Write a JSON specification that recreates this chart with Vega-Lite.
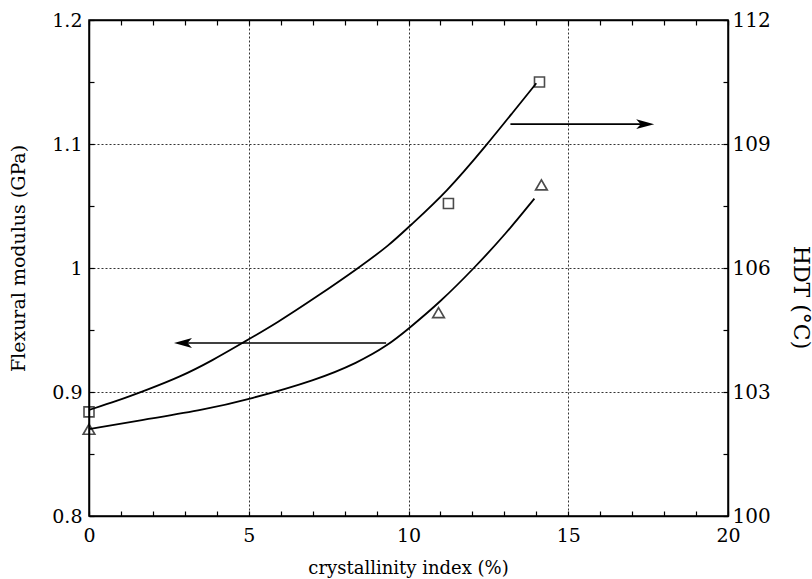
{
  "$schema": "https://vega.github.io/schema/vega-lite/v6.json",
  "width": 639,
  "height": 496,
  "autosize": {"type": "none"},
  "padding": {"left": 89, "top": 20, "right": 84, "bottom": 63},
  "background": "white",
  "config": {
    "font": "DejaVu Serif",
    "view": {"stroke": "black", "strokeWidth": 1.5},
    "axis": {
      "domainColor": "black", "domainWidth": 1.5,
      "tickColor": "black", "tickWidth": 1.2,
      "labelColor": "black", "titleColor": "black",
      "labelFont": "DejaVu Serif", "titleFont": "DejaVu Serif",
      "titleFontWeight": "normal", "labelFlush": false, "labelOverlap": false,
      "gridColor": "#333", "gridDash": [2, 2], "gridWidth": 1
    }
  },
  "datasets": {
    "lower": [
      {"x": 0, "y": 0.870}, {"x": 1.9, "y": 0.8785}, {"x": 3.56, "y": 0.8855},
      {"x": 5.03, "y": 0.8942}, {"x": 7.12, "y": 0.9097}, {"x": 8.4, "y": 0.9235},
      {"x": 9.35, "y": 0.9375}, {"x": 10.0, "y": 0.951}, {"x": 10.97, "y": 0.972},
      {"x": 12.06, "y": 1.0}, {"x": 13.06, "y": 1.028}, {"x": 13.94, "y": 1.056}
    ],
    "upper": [
      {"x": 0, "h": 102.565}, {"x": 0.87, "h": 102.78}, {"x": 1.81, "h": 103.05},
      {"x": 2.84, "h": 103.36}, {"x": 3.88, "h": 103.77}, {"x": 4.81, "h": 104.19},
      {"x": 5.88, "h": 104.67}, {"x": 7.12, "h": 105.3}, {"x": 8.47, "h": 106.02},
      {"x": 9.41, "h": 106.56}, {"x": 10.0, "h": 106.99}, {"x": 11.19, "h": 107.83},
      {"x": 12.47, "h": 109.0}, {"x": 13.25, "h": 109.75}, {"x": 14.0, "h": 110.47}
    ],
    "triangles": [
      {"x": 0, "y": 0.870}, {"x": 10.94, "y": 0.964}, {"x": 14.16, "y": 1.067}
    ],
    "squares": [
      {"x": 0, "h": 102.52}, {"x": 11.25, "h": 107.56}, {"x": 14.1, "h": 110.5}
    ],
    "arrowLeft": [{"x": 9.3, "x2": 2.85, "y": 0.9395, "tip": 2.66}],
    "arrowRight": [{"x": 13.19, "x2": 17.5, "h": 109.48, "tip": 17.69}]
  },
  "layer": [
    {
      "data": {"name": "lower"},
      "mark": {"type": "line", "interpolate": "basis", "color": "black", "strokeWidth": 1.8},
      "encoding": {
        "x": {
          "field": "x", "type": "quantitative",
          "scale": {"domain": [0, 20], "nice": false, "zero": false},
          "axis": {
            "orient": "bottom",
            "values": [0,1,2,3,4,5,6,7,8,9,10,11,12,13,14,15,16,17,18,19,20],
            "labelExpr": "datum.value % 5 === 0 ? datum.label : ''",
            "format": "d", "tickSize": -5, "labelPadding": 15, "labelFontSize": 19,
            "grid": false,
            "title": "crystallinity index (%)", "titleFontSize": 18,
            "titleX": 319, "titleY": 57, "titleBaseline": "alphabetic"
          }
        },
        "y": {
          "field": "y", "type": "quantitative",
          "scale": {"domain": [0.8, 1.2], "nice": false, "zero": false},
          "axis": {
            "orient": "left",
            "values": [0.8,0.85,0.9,0.95,1.0,1.05,1.1,1.15,1.2],
            "format": "~g",
            "labelExpr": "round(datum.value*100) % 10 === 0 ? datum.label : ''",
            "tickSize": -5, "labelPadding": 12, "labelFontSize": 19,
            "grid": false,
            "title": "Flexural modulus (GPa)", "titleFontSize": 19,
            "titleAngle": 270, "titleX": -71, "titleY": 238, "titleBaseline": "middle", "titleAlign": "center"
          }
        }
      }
    },
    {
      "data": {"name": "triangles"},
      "mark": {"type": "point", "shape": "triangle-up", "filled": false, "color": "black", "strokeWidth": 1.7, "size": 135},
      "encoding": {
        "x": {"field": "x", "type": "quantitative", "scale": {"domain": [0, 20], "nice": false, "zero": false},
          "axis": {"orient": "bottom", "values": [5, 10, 15], "grid": true, "labels": false, "ticks": false, "domain": false, "title": null}},
        "y": {"field": "y", "type": "quantitative", "scale": {"domain": [0.8, 1.2], "nice": false, "zero": false},
          "axis": {"orient": "left", "values": [0.9, 1.0, 1.1], "grid": true, "labels": false, "ticks": false, "domain": false, "title": null}}
      }
    },
    {
      "data": {"name": "arrowLeft"},
      "mark": {"type": "rule", "color": "black", "strokeWidth": 1.6},
      "encoding": {
        "x": {"field": "x", "type": "quantitative", "scale": {"domain": [0, 20], "nice": false, "zero": false}, "axis": null},
        "x2": {"field": "x2"},
        "y": {"field": "y", "type": "quantitative", "scale": {"domain": [0.8, 1.2], "nice": false, "zero": false}, "axis": null}
      }
    },
    {
      "data": {"name": "arrowLeft"},
      "mark": {"type": "point", "shape": "M 0 0 L 2 -0.55 L 1.5 0 L 2 0.55 Z", "filled": true, "color": "black", "opacity": 1, "size": 324},
      "encoding": {
        "x": {"field": "tip", "type": "quantitative", "scale": {"domain": [0, 20], "nice": false, "zero": false}, "axis": null},
        "y": {"field": "y", "type": "quantitative", "scale": {"domain": [0.8, 1.2], "nice": false, "zero": false}, "axis": null}
      }
    },
    {
      "data": {"name": "upper"},
      "mark": {"type": "line", "interpolate": "basis", "color": "black", "strokeWidth": 1.8},
      "encoding": {
        "x": {
          "field": "x", "type": "quantitative",
          "scale": {"domain": [0, 20], "nice": false, "zero": false},
          "axis": {
            "orient": "top",
            "values": [0,1,2,3,4,5,6,7,8,9,10,11,12,13,14,15,16,17,18,19,20],
            "labels": false, "tickSize": -5, "grid": false, "title": null
          }
        },
        "y": {
          "field": "h", "type": "quantitative",
          "scale": {"domain": [100, 112], "nice": false, "zero": false},
          "axis": {
            "orient": "right",
            "values": [100,101.5,103,104.5,106,107.5,109,110.5,112],
            "format": "~g",
            "labelExpr": "(datum.value - 100) % 3 === 0 ? datum.label : ''",
            "tickSize": -5, "labelPadding": 9, "labelFontSize": 20,
            "grid": false,
            "title": "HDT (°C)", "titleFontSize": 22,
            "titleAngle": 90, "titleX": 72, "titleY": 277, "titleBaseline": "middle", "titleAlign": "center"
          }
        }
      }
    },
    {
      "data": {"name": "squares"},
      "mark": {"type": "point", "shape": "square", "filled": false, "color": "black", "strokeWidth": 1.6, "size": 100},
      "encoding": {
        "x": {"field": "x", "type": "quantitative", "scale": {"domain": [0, 20], "nice": false, "zero": false}, "axis": null},
        "y": {"field": "h", "type": "quantitative", "scale": {"domain": [100, 112], "nice": false, "zero": false}, "axis": null}
      }
    },
    {
      "data": {"name": "arrowRight"},
      "mark": {"type": "rule", "color": "black", "strokeWidth": 1.6},
      "encoding": {
        "x": {"field": "x", "type": "quantitative", "scale": {"domain": [0, 20], "nice": false, "zero": false}, "axis": null},
        "x2": {"field": "x2"},
        "y": {"field": "h", "type": "quantitative", "scale": {"domain": [100, 112], "nice": false, "zero": false}, "axis": null}
      }
    },
    {
      "data": {"name": "arrowRight"},
      "mark": {"type": "point", "shape": "M 0 0 L -2 -0.55 L -1.5 0 L -2 0.55 Z", "filled": true, "color": "black", "opacity": 1, "size": 324},
      "encoding": {
        "x": {"field": "tip", "type": "quantitative", "scale": {"domain": [0, 20], "nice": false, "zero": false}, "axis": null},
        "y": {"field": "h", "type": "quantitative", "scale": {"domain": [100, 112], "nice": false, "zero": false}, "axis": null}
      }
    }
  ],
  "resolve": {"scale": {"y": "independent"}, "axis": {"x": "independent", "y": "independent"}}
}
